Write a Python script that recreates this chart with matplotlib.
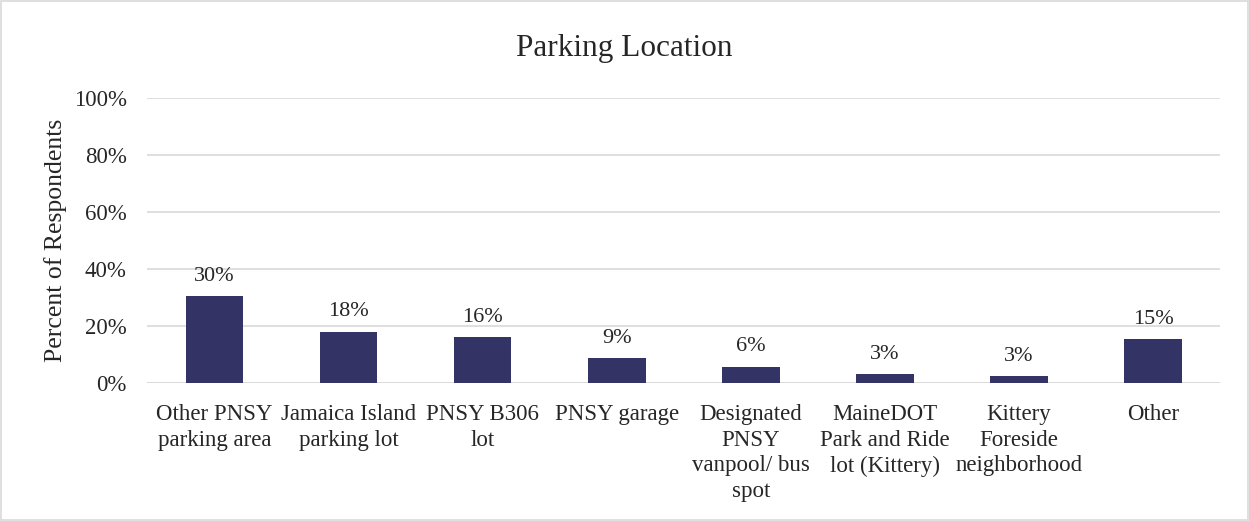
import matplotlib
matplotlib.use("Agg")
import matplotlib.pyplot as plt
from matplotlib.ticker import PercentFormatter

categories = ["Other PNSY\nparking area", "Jamaica Island\nparking lot", "PNSY B306\nlot",
              "PNSY garage", "Designated\nPNSY\nvanpool/ bus\nspot",
              "MaineDOT\nPark and Ride\nlot (Kittery)", "Kittery\nForeside\nneighborhood", "Other"]
values = [30.4, 18.0, 16.0, 8.6, 5.7, 3.2, 2.5, 15.4]
labels = ["30%", "18%", "16%", "9%", "6%", "3%", "3%", "15%"]

plt.rcParams['font.family'] = ['Liberation Serif', 'DejaVu Serif']

fig = plt.figure(figsize=(12.49, 5.21), dpi=100)
ax = fig.add_axes([0.118, 0.265, 0.859, 0.547])

x = range(len(categories))
bars = ax.bar(x, values, width=0.43, color='#333366', zorder=3)
for b, lab in zip(bars, labels):
    ax.text(b.get_x() + b.get_width() / 2, b.get_height() + 3.6, lab,
            ha='center', va='bottom', fontsize=16, color='#262626')

ax.set_xlim(-0.5, len(categories) - 0.5)
ax.set_ylim(0, 100)
ax.set_yticks(range(0, 101, 20))
ax.yaxis.set_major_formatter(PercentFormatter(decimals=0))
ax.set_xticks(list(x))
ax.set_xticklabels(categories, fontsize=16.5, color='#262626', linespacing=1.3)
ax.tick_params(axis='y', labelsize=16.5, labelcolor='#262626', length=0, pad=15)
ax.tick_params(axis='x', length=0, pad=15)
ax.grid(axis='y', color='#d9d9d9', linewidth=1.2, zorder=0)
for s in ax.spines.values():
    s.set_visible(False)
ax.axhline(0, color='#d9d9d9', linewidth=1.2, zorder=2)

ax.set_ylabel("Percent of Respondents", fontsize=18.5, color='#262626', labelpad=5)
fig.text(0.5, 0.907, "Parking Location", ha='center', va='center', fontsize=22.5, color='#262626')

fig.patches.append(plt.Rectangle((0.001, 0.002), 0.998, 0.996, transform=fig.transFigure,
                                 fill=False, edgecolor='#d9d9d9', linewidth=1.2))

fig.savefig("out.png", dpi=100)
